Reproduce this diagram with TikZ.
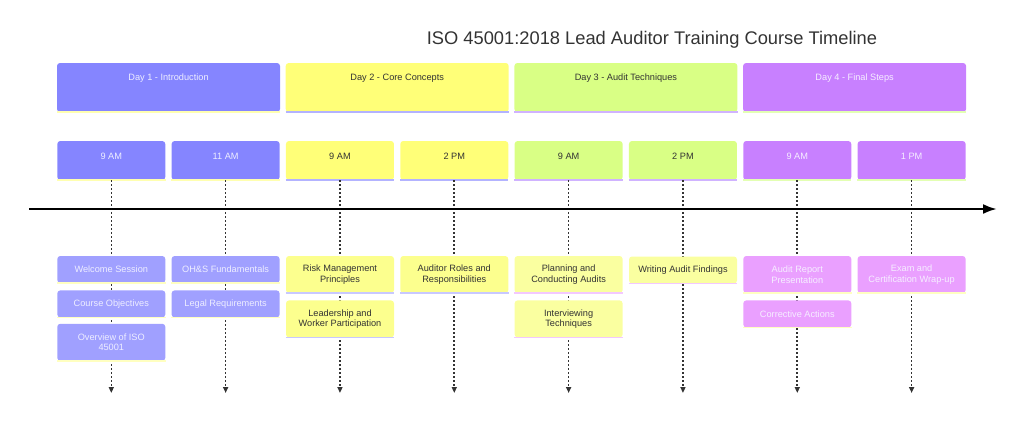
\documentclass[tikz,border=0pt]{standalone}
\usepackage{fontspec}
\setmainfont{Liberation Sans}
\usetikzlibrary{arrows.meta,calc,positioning}

\definecolor{dayA}{HTML}{8585FF}
\definecolor{dayB}{HTML}{FFFF78}
\definecolor{dayC}{HTML}{D9FF85}
\definecolor{dayD}{HTML}{C880FF}
\definecolor{taskA}{HTML}{A0A0FF}
\definecolor{taskB}{HTML}{FCFF8E}
\definecolor{taskC}{HTML}{FAFFA0}
\definecolor{taskD}{HTML}{EAA0FF}
\definecolor{barA}{HTML}{FFFFB0}
\definecolor{barB}{HTML}{B3B3FF}
\definecolor{barC}{HTML}{D0B3FF}
\definecolor{barD}{HTML}{E3FFB3}
\definecolor{subA}{HTML}{FFFFC0}
\definecolor{subB}{HTML}{C8C8FF}
\definecolor{subC}{HTML}{F3C8FF}
\definecolor{subD}{HTML}{FFFFC0}
\definecolor{inkA}{HTML}{EEEEFF}
\definecolor{inkB}{HTML}{333333}
\definecolor{inkC}{HTML}{333333}
\definecolor{inkD}{HTML}{F6EEFF}
\definecolor{guide}{HTML}{333333}

\tikzset{
  box/.style={rectangle, rounded corners=3pt, inner sep=0pt, minimum width=108pt},
  daybox/.style={box, minimum width=223pt, minimum height=49pt},
  slotbox/.style={box, minimum height=39pt},
  taskbox/.style={box, align=center, minimum height=27pt, font=\fontsize{9.2}{10.5}\selectfont},
  taskboxII/.style={taskbox, minimum height=37pt},
  boxtext/.style={font=\fontsize{9.2}{10.5}\selectfont},
  timeline/.style={line width=2.5pt, -{Latex[length=14pt,width=10pt]}},
  guideline/.style={line width=1.6pt, color=guide, dash pattern=on 2pt off 2pt, -{Triangle[length=6pt,width=5pt]}},
}

\begin{document}
\begin{tikzpicture}[x=1pt,y=-1pt]
\useasboundingbox (0,0) rectangle (1024,421);

\node[font=\fontsize{18.3}{20}\selectfont, text=inkB] (title) at (652,40) {ISO 45001:2018 Lead Auditor Training Course Timeline};

% the days
\foreach \c/\t [count=\i] in {A/{Day 1 - Introduction}, B/{Day 2 - Core Concepts}, C/{Day 3 - Audit Techniques}, D/{Day 4 - Final Steps}}
{
\pgfmathsetmacro\x{168.5+(\i-1)*228.7}
\node[daybox, fill=day\c, label={[name=day\i text, yshift=9.5pt, boxtext, text=ink\c]center:\t}] (day\i) at (\x,87.5) {};
\draw[bar\c, line width=2pt] (day\i.south west) -- (day\i.south east);
}

% the time slots and their guides
\foreach \c/\t [count=\i] in {A/9 AM, A/11 AM, B/9 AM, B/2 PM, C/9 AM, C/2 PM, D/9 AM, D/1 PM}
{
\pgfmathsetmacro\x{111.3+(\i-1)*114.33}
\node[slotbox, fill=day\c, label={[name=slot\i text, yshift=4.5pt, boxtext, text=ink\c]center:\t}] (slot\i) at (\x,160.5) {};
\draw[bar\c, line width=2pt] (slot\i.south west) -- (slot\i.south east);
\coordinate (end\i) at (\x,393);
\draw[guideline] (slot\i.south) -- (end\i);
}

% the axis
\coordinate (axisL) at (29,209);
\coordinate (axisR) at (997,209);
\draw[timeline] (axisL) -- (axisR);

% the tasks
\node[taskbox, fill=taskA, text=inkA] (welcome) at (111.3,269.5) {Welcome Session};
\node[taskbox, fill=taskA, text=inkA, below=7pt of welcome] (objectives) {Course Objectives};
\node[taskboxII, fill=taskA, text=inkA, below=6pt of objectives] (overview) {Overview of ISO\\45001};

\node[taskbox, fill=taskA, text=inkA] (ohs) at (225.6,269.5) {OH\&S Fundamentals};
\node[taskbox, fill=taskA, text=inkA, below=7pt of ohs] (legal) {Legal Requirements};

\node[taskboxII, fill=taskB, text=inkB] (risk) at (340,274.5) {Risk Management\\Principles};
\node[taskboxII, fill=taskB, text=inkB, below=7pt of risk] (leadership) {Leadership and\\Worker Participation};

\node[taskboxII, fill=taskB, text=inkB] (roles) at (454.3,274.5) {Auditor Roles and\\Responsibilities};

\node[taskboxII, fill=taskC, text=inkC] (planning) at (568.6,274.5) {Planning and\\Conducting Audits};
\node[taskboxII, fill=taskC, text=inkC, below=7pt of planning] (interviewing) {Interviewing\\Techniques};

\node[taskbox, fill=taskC, text=inkC] (findings) at (683,270) {Writing Audit Findings};

\node[taskboxII, fill=taskD, text=inkD] (report) at (797.3,274.5) {Audit Report\\Presentation};
\node[taskbox, fill=taskD, text=inkD, below=7pt of report] (corrective) {Corrective Actions};

\node[taskboxII, fill=taskD, text=inkD] (exam) at (911.6,274.5) {Exam and\\Certification Wrap-up};

\foreach \n/\c in {welcome/A, objectives/A, overview/A, ohs/A, legal/A, risk/B, leadership/B, roles/B, planning/C, interviewing/C, findings/C, report/D, corrective/D, exam/D}
\draw[sub\c, line width=1.5pt] (\n.south west) -- (\n.south east);

\end{tikzpicture}
\end{document}
